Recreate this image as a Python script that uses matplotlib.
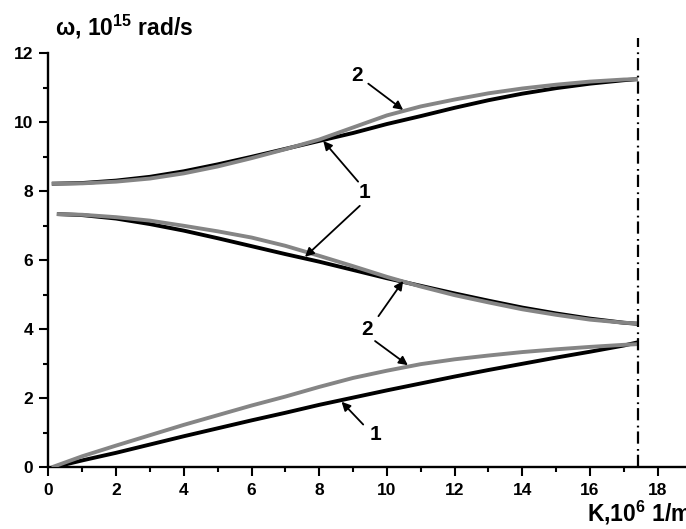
import matplotlib
matplotlib.use("Agg")
import matplotlib.pyplot as plt
from matplotlib.ticker import MultipleLocator

plt.rcParams['font.family'] = ['Liberation Sans', 'DejaVu Sans']
plt.rcParams['font.weight'] = 'bold'
plt.rcParams['mathtext.fontset'] = 'custom'
plt.rcParams['mathtext.rm'] = 'Liberation Sans:bold'
plt.rcParams['mathtext.bf'] = 'Liberation Sans:bold'
plt.rcParams['mathtext.it'] = 'Liberation Sans:bold'

# ---- data ----
k_grid = [1, 2, 3, 4, 5, 6, 7, 8, 9, 10, 11, 12, 13, 14, 15, 16, 17, 17.4]

low_black_k = [0.15] + k_grid
low_black = [0.0, 0.20, 0.42, 0.66, 0.90, 1.13, 1.36, 1.58, 1.81, 2.02, 2.23,
             2.43, 2.63, 2.82, 3.00, 3.18, 3.35, 3.53, 3.62]
low_gray_k = [0.1] + k_grid
low_gray = [0.0, 0.32, 0.63, 0.93, 1.23, 1.51, 1.79, 2.05, 2.33, 2.59, 2.80,
            2.99, 3.13, 3.24, 3.34, 3.42, 3.49, 3.55, 3.57]

mid_k = [0.25] + k_grid
mid_black = [7.34, 7.31, 7.21, 7.05, 6.86, 6.64, 6.41, 6.18, 5.96, 5.72, 5.48,
             5.26, 5.04, 4.83, 4.63, 4.46, 4.31, 4.19, 4.16]
mid_gray = [7.34, 7.32, 7.25, 7.15, 7.00, 6.84, 6.66, 6.42, 6.13, 5.83, 5.52,
            5.24, 4.99, 4.78, 4.58, 4.42, 4.28, 4.19, 4.17]

up_k = [0.1] + k_grid
up_black = [8.22, 8.24, 8.31, 8.42, 8.58, 8.78, 9.00, 9.23, 9.46, 9.69, 9.95,
            10.18, 10.42, 10.64, 10.83, 10.99, 11.12, 11.22, 11.25]
up_gray = [8.22, 8.23, 8.28, 8.37, 8.52, 8.72, 8.96, 9.22, 9.50, 9.85, 10.20,
           10.46, 10.66, 10.84, 10.98, 11.09, 11.18, 11.24, 11.25]

k_edge = 17.43
x_ticks = [0, 2, 4, 6, 8, 10, 12, 14, 16, 18]
y_ticks = [0, 2, 4, 6, 8, 10, 12]

# annotations: (label, text position, [arrow start, arrow tip])
annots = [
    ("2", (9.11, 11.37), [((9.45, 11.12), (10.48, 10.36))]),
    ("1", (9.35, 7.96), [((9.15, 8.28), (8.12, 9.46)), ((9.20, 7.58), (7.58, 6.10))]),
    ("2", (9.40, 3.98), [((9.75, 4.38), (10.48, 5.40)), ((9.65, 3.66), (10.62, 2.96))]),
    ("1", (9.65, 0.94), [((9.30, 1.24), (8.66, 1.90))]),
]

BLACK = '#000000'
GRAY = '#858585'

W, H = 686, 529
fig = plt.figure(figsize=(W / 100, H / 100), dpi=100)
x0_px, y0_px = 48.4, 467.3
x_unit, y_unit = 33.85, 34.5
left = x0_px / W
bottom = (H - y0_px) / H
height = 12 * y_unit / H
ax = fig.add_axes([left, bottom, 1 - left, height])
ax.set_xlim(0, (W - x0_px) / x_unit)
ax.set_ylim(0, 12)

lw = 2.8
ax.plot(low_black_k, low_black, color=BLACK, lw=lw, solid_capstyle='butt', zorder=3)
ax.plot(low_gray_k, low_gray, color=GRAY, lw=lw, solid_capstyle='butt', zorder=4)
ax.plot(mid_k, mid_black, color=BLACK, lw=lw, solid_capstyle='butt', zorder=3)
ax.plot(mid_k, mid_gray, color=GRAY, lw=lw, solid_capstyle='butt', zorder=4)
ax.plot(up_k, up_black, color=BLACK, lw=lw, solid_capstyle='butt', zorder=3)
ax.plot(up_k, up_gray, color=GRAY, lw=lw, solid_capstyle='butt', zorder=4)

ax.plot([k_edge, k_edge], [0, 12.45], color=BLACK, lw=1.6,
        linestyle=(0, (5.5, 1.8, 0.8, 2.4)), clip_on=False, zorder=5)

for label, tpos, arrows in annots:
    ax.text(tpos[0], tpos[1], label, fontsize=15, fontweight='bold',
            ha='center', va='center', zorder=6)
    for start, tip in arrows:
        ax.annotate('', xy=tip, xytext=start,
                    arrowprops=dict(arrowstyle='-|>', color='black', lw=1.3,
                                    mutation_scale=13, shrinkA=0, shrinkB=0),
                    zorder=6)

ax.spines['top'].set_visible(False)
ax.spines['right'].set_visible(False)
ax.spines['left'].set_linewidth(1.7)
ax.spines['bottom'].set_linewidth(1.7)
ax.set_xticks(x_ticks)
ax.set_yticks(y_ticks)
ax.set_xticklabels([str(v) for v in x_ticks])
ax.set_yticklabels([str(v) for v in y_ticks])
ax.xaxis.set_minor_locator(MultipleLocator(1))
ax.yaxis.set_minor_locator(MultipleLocator(1))
ax.tick_params(which='major', direction='out', length=6.5, width=1.5,
               labelsize=12.5, pad=4.5)
ax.tick_params(which='minor', direction='out', length=3.3, width=1.5)
for lab in ax.get_xticklabels() + ax.get_yticklabels():
    lab.set_fontweight('bold')

fig.text(55 / W, 1 - 27 / H, r'ω, 10$^{\mathbf{15}}$ rad/s', fontsize=16.5,
         fontweight='bold', ha='left', va='center')
fig.text(587 / W, 1 - 513 / H, r'K,10$^{\mathbf{6}}$ 1/m', fontsize=16.5,
         fontweight='bold', ha='left', va='center')

fig.savefig('out.png', dpi=100)
